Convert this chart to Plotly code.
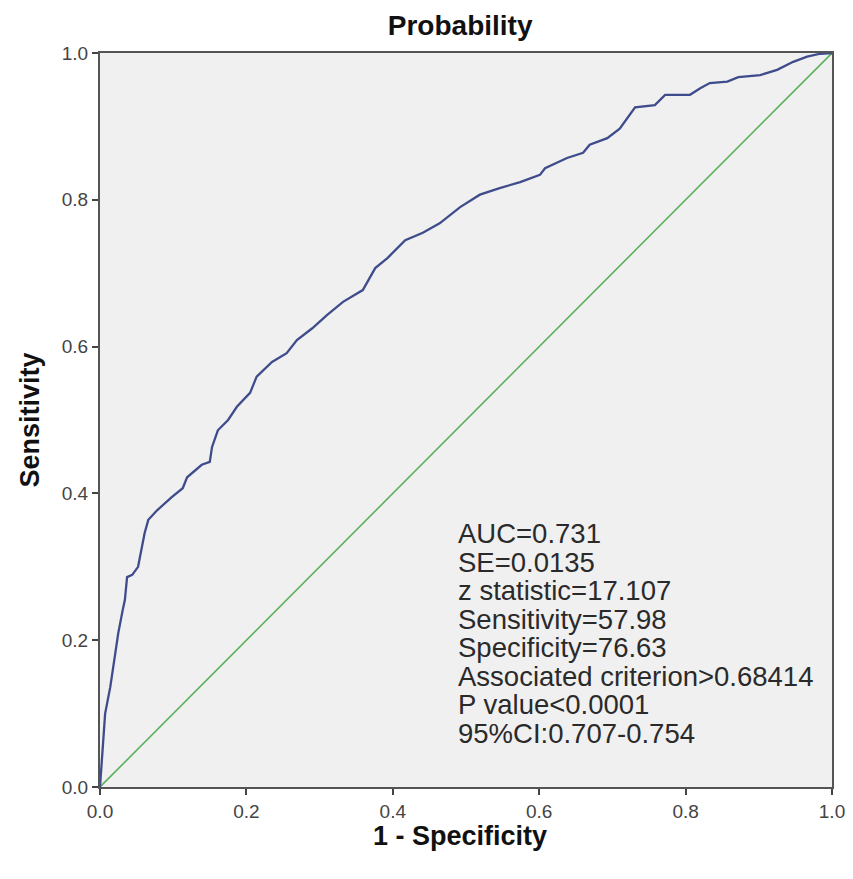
import plotly.graph_objects as go

# ROC curve points (1 - Specificity, Sensitivity)
fpr = [0.0, 0.003, 0.007, 0.014, 0.020, 0.025, 0.031, 0.034, 0.037, 0.044, 0.052, 0.057,
       0.061, 0.066, 0.078, 0.098, 0.113, 0.119, 0.139, 0.150, 0.153, 0.161, 0.175,
       0.187, 0.205, 0.214, 0.235, 0.255, 0.269, 0.290, 0.310, 0.332, 0.359, 0.376,
       0.393, 0.417, 0.441, 0.464, 0.492, 0.519, 0.546, 0.574, 0.601, 0.608, 0.638,
       0.660, 0.669, 0.693, 0.710, 0.731, 0.758, 0.772, 0.806, 0.820, 0.833, 0.857,
       0.872, 0.902, 0.925, 0.947, 0.966, 0.984, 1.0]
tpr = [0.0, 0.050, 0.100, 0.136, 0.177, 0.210, 0.241, 0.255, 0.286, 0.289, 0.300, 0.323,
       0.346, 0.364, 0.377, 0.395, 0.407, 0.422, 0.439, 0.443, 0.463, 0.486, 0.500,
       0.518, 0.537, 0.559, 0.579, 0.591, 0.609, 0.625, 0.643, 0.661, 0.677, 0.707,
       0.721, 0.745, 0.755, 0.768, 0.790, 0.807, 0.816, 0.824, 0.834, 0.843, 0.857,
       0.864, 0.875, 0.884, 0.897, 0.926, 0.929, 0.943, 0.943, 0.952, 0.959, 0.961,
       0.967, 0.970, 0.977, 0.988, 0.995, 0.999, 1.0]

ref_x = [0.0, 1.0]
ref_y = [0.0, 1.0]

tick_vals = [0.0, 0.2, 0.4, 0.6, 0.8, 1.0]
tick_text = ["0.0", "0.2", "0.4", "0.6", "0.8", "1.0"]

stats_lines = [
    "AUC=0.731",
    "SE=0.0135",
    "z statistic=17.107",
    "Sensitivity=57.98",
    "Specificity=76.63",
    "Associated criterion>0.68414",
    "P value<0.0001",
    "95%CI:0.707-0.754",
]

FONT = "Liberation Sans, Arial, sans-serif"

fig = go.Figure()
fig.add_trace(go.Scatter(x=ref_x, y=ref_y, mode="lines",
                         line=dict(color="#5cb05c", width=1.6),
                         hoverinfo="skip", showlegend=False))
fig.add_trace(go.Scatter(x=fpr, y=tpr, mode="lines",
                         line=dict(color="#3f4c8c", width=2.3),
                         showlegend=False))

line_gap = 0.0388
for i, t in enumerate(stats_lines):
    fig.add_annotation(x=0.486, y=0.345 - i * line_gap, xref="x", yref="y",
                       text=t, showarrow=False, xanchor="left", yanchor="middle",
                       font=dict(family=FONT, size=27.5, color="#2a2a2a"))

# x-axis title placed as an annotation just below the tick labels
fig.add_annotation(x=0.492, y=-0.067, xref="paper", yref="paper",
                   text="<b>1 - Specificity</b>", showarrow=False,
                   xanchor="center", yanchor="middle",
                   font=dict(family=FONT, size=27, color="#111111"))

axis_common = dict(
    range=[0, 1], tickvals=tick_vals, ticktext=tick_text,
    showgrid=False, zeroline=False,
    showline=True, linecolor="#555555", linewidth=2, mirror=True,
    ticks="outside", ticklen=6, tickwidth=1.5, tickcolor="#444444",
    tickfont=dict(family=FONT, size=19, color="#444444"),
)

fig.update_layout(
    width=853, height=879,
    margin=dict(l=92, r=29, t=45, b=100),
    paper_bgcolor="white", plot_bgcolor="#f0f0f0",
    title=dict(text="<b>Probability</b>", x=0.492, xanchor="center",
               xref="paper", y=1 - (25 - 8) / 879, yanchor="middle",
               font=dict(family=FONT, size=28, color="#111111")),
    xaxis=dict(**axis_common),
    yaxis=dict(**axis_common,
               title=dict(text="<b>Sensitivity</b>", standoff=14,
                          font=dict(family=FONT, size=27, color="#111111"))),
)

fig.write_html("out.html")
